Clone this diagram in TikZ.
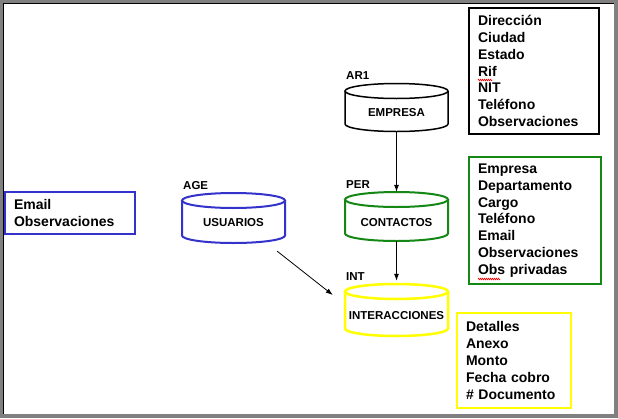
\documentclass[tikz,border=0pt]{standalone}
\usepackage{fontspec}
\setmainfont{Liberation Sans}
\usetikzlibrary{arrows.meta,decorations.pathmorphing}
\definecolor{cblue}{RGB}{51,51,204}
\definecolor{cgreen}{RGB}{20,135,20}
\definecolor{cyellow}{RGB}{255,255,0}
\definecolor{cframe}{RGB}{128,128,128}
\newcommand\dbcyl[5]{%
  \draw[#2] (#3-51.5,#4) -- (#3-51.5,#5) arc[start angle=180,end angle=0,x radius=51.5,y radius=7.5] -- (#3+51.5,#4);
  \draw[#2] (#3,#4) ellipse[x radius=51.5,y radius=7.5];
  \node[minimum width=103pt, minimum height={#5-#4+15}, inner sep=0pt, draw=none] (#1) at (#3,{(#4+#5)/2}) {};
}
\tikzset{
  attr/.style={font=\bfseries\fontsize{14}{16.8}\selectfont, align=left, inner ysep=0pt, anchor=center},
  cyltxt/.style={font=\bfseries\fontsize{11.5}{13}\selectfont, anchor=base, inner sep=0pt},
  tag/.style={font=\bfseries\fontsize{11.5}{13}\selectfont, anchor=base west, inner sep=0pt},
  arr/.style={-{Latex[length=7pt,width=5pt]}, line width=0.8pt},
  squig/.style={red, line width=0.6pt, decoration={zigzag,segment length=2pt,amplitude=0.8pt}, decorate}
}
\begin{document}
\begin{tikzpicture}[x=1pt,y=-1pt]
\useasboundingbox (0,0) rectangle (618,418);
\fill[cframe] (0,0) rectangle (618,418);
\fill[white] (4,4) rectangle (614,414);
\draw[black, line width=1pt] (3.5,414) -- (3.5,3.5) -- (614,3.5);

% cylinders
\dbcyl{emp}{black, line width=1.5pt}{396.5}{91}{124}
\dbcyl{con}{cgreen, line width=2pt}{396.5}{199.5}{233.5}
\dbcyl{int}{cyellow, line width=2.5pt}{396.5}{291.5}{328.5}
\dbcyl{usu}{cblue, line width=2pt}{233.5}{200.5}{235.5}

\node[cyltxt] (tE) at (396.5,116) {EMPRESA};
\node[cyltxt] (tC) at (396.5,226) {CONTACTOS};
\node[cyltxt] (tI) at (396.5,319) {INTERACCIONES};
\node[cyltxt] (tU) at (233.5,226) {USUARIOS};

\node[tag] (lAR) at (346,79) {AR1};
\node[tag] (lPE) at (346,188) {PER};
\node[tag] (lIN) at (346,280) {INT};
\node[tag] (lAG) at (183,189) {AGE};

% arrows
\draw[arr] (emp.south) -- (con.north);
\draw[arr, shorten >=3pt] (con.south) -- (int.north);
\draw[arr] ([shift={(-8,8)}]usu.south east) -- ([shift={(-12,-15)}]int.west);

% attribute boxes
\node[attr, draw=black, line width=2pt, minimum width=130pt, minimum height=126pt, inner xsep=9pt, text width=112pt] (bE) at (534,71)
 {Dirección\\Ciudad\\Estado\\Rif\\NIT\\Teléfono\\Observaciones};
\node[attr, draw=cgreen, line width=2pt, minimum width=132pt, minimum height=127pt, inner xsep=9pt, text width=114pt] (bC) at (535,220.5)
 {Empresa\\Departamento\\Cargo\\Teléfono\\Email\\Observaciones\\Obs privadas};
\node[attr, draw=cyellow, line width=2.5pt, minimum width=114pt, minimum height=95pt, inner xsep=9pt, text width=96pt] (bI) at (514,360.5)
 {Detalles\\Anexo\\Monto\\Fecha cobro\\\# Documento};
\node[attr, draw=cblue, line width=2pt, minimum width=130pt, minimum height=42pt, inner xsep=9pt, text width=112pt] (bU) at (70,213)
 {Email\\Observaciones};

\draw[squig] (478,80) -- (492,80);
\draw[squig] (478,279) -- (500,279);
\end{tikzpicture}
\end{document}
